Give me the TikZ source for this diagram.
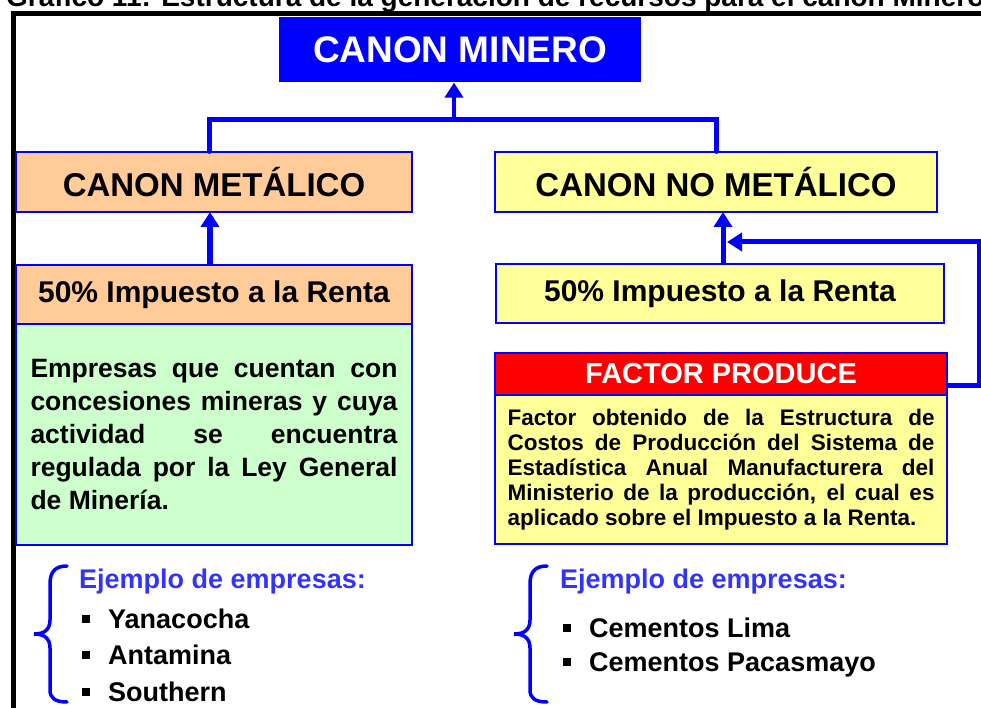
\documentclass[tikz,border=0pt]{standalone}
\usepackage{fontspec}
\setmainfont{Liberation Sans}
\usepackage{tikz}
\usetikzlibrary{arrows.meta}
\definecolor{cmblue}{RGB}{0,0,255}
\definecolor{cmorange}{RGB}{255,204,153}
\definecolor{cmyellow}{RGB}{255,255,153}
\definecolor{cmgreen}{RGB}{204,255,204}
\definecolor{cmred}{RGB}{255,0,0}
\definecolor{cmlabel}{RGB}{51,51,255}

\begin{document}
\begin{tikzpicture}[x=1pt, y=-1pt,
  box/.style={draw=cmblue, line width=1.2pt, inner sep=0pt, font=\bfseries},
  item/.style={anchor=base west, inner sep=0pt, font=\bfseries\fontsize{27}{30}\selectfont},
  link/.style={draw=cmblue, line width=5pt},
  uparrow/.style={link, -{Triangle[width=18pt,length=15pt]}},
  brace/.style={draw=cmblue, line width=3.5pt, line cap=round}]
  \clip (0,0) rectangle (981,708);

  % Title and frame
  \node[anchor=base west, inner sep=0pt, font=\bfseries\fontsize{28}{32}\selectfont] (title) at (6,7) {Gráfico 11: Estructura de la generación de recursos para el canon Minero};
  \draw[line width=5pt] (13,712) -- (13,14) -- (990,14);

  % Top
  \node[box, draw=none, fill=cmblue, text=white, minimum width=362pt, minimum height=65pt, font=\bfseries\fontsize{37}{40}\selectfont] (minero) at (460,49.5) {CANON MINERO};

  % Canon
  \node[box, fill=cmorange, minimum width=396pt, minimum height=60pt, font=\bfseries\fontsize{33}{36}\selectfont] (metal) at (214,182) {CANON METÁLICO};
  \node[box, fill=cmyellow, minimum width=442pt, minimum height=60pt, font=\bfseries\fontsize{33}{36}\selectfont] (nometal) at (716,182) {CANON NO METÁLICO};

  % Renta
  \node[box, fill=cmorange, minimum width=396pt, minimum height=59pt, font=\bfseries\fontsize{30}{33}\selectfont] (renta1) at (214,294.5) {50\% Impuesto a la Renta};
  \node[box, fill=cmyellow, minimum width=448pt, minimum height=59pt, font=\bfseries\fontsize{30}{33}\selectfont] (renta2) at (720,293.5) {50\% Impuesto a la Renta};

  % Descriptions
  \node[box, fill=cmgreen, text width=367pt, inner xsep=14.5pt, minimum height=221pt, align=justify, font=\bfseries\fontsize{26.5}{33}\selectfont] (desc1) at (214,434.5) {Empresas que cuentan con\linebreak concesiones mineras y cuya\linebreak actividad se encuentra\linebreak regulada por la Ley General\linebreak de Minería.};
  \node[box, fill=cmred, text=white, minimum width=452pt, minimum height=42pt, font=\bfseries\fontsize{29}{32}\selectfont] (factor) at (721,374) {FACTOR PRODUCE};
  \node[box, fill=cmyellow, text width=427pt, inner xsep=12.5pt, minimum height=149pt, align=justify, font=\bfseries\fontsize{22.5}{25}\selectfont] (desc2) at (721,469.5) {Factor obtenido de la Estructura de\linebreak Costos de Producción del Sistema de\linebreak Estadística Anual Manufacturera del\linebreak Ministerio de la producción, el cual es\linebreak aplicado sobre el Impuesto a la Renta.};

  % Connectors
  \coordinate (barL) at (209,120);
  \coordinate (barR) at (716,120);
  \coordinate (barM) at (454,120);
  \coordinate (join) at (727,242);
  \draw[link, line cap=round] (barL |- metal.north) -- (barL) -- (barR) -- (barR |- nometal.north);
  \draw[uparrow, line width=4pt] (barM) -- (barM |- minero.south);
  \draw[uparrow, line width=6pt] (210,265) -- (210,212);
  \draw[uparrow] (723,264) -- (723,212);
  \draw[link, -{Triangle[width=18pt,length=15pt]}] ([yshift=-11pt]factor.east) -| (979,242) -- (join);

  % Examples left
  \draw[brace] (67,566) .. controls (55,566) and (50,572) .. (50,584) -- (50,620) .. controls (50,630) and (44,634) .. (34,634) .. controls (44,634) and (50,638) .. (50,648) -- (50,690) .. controls (50,698) and (55,702) .. (67,702);
  \node[item, text=cmlabel] (ej1) at (79,588) {Ejemplo de empresas:};
  \node[item] (yana) at (82,628) {\rule[5.5pt]{8pt}{8pt}\hspace{18pt}Yanacocha};
  \node[item] (anta) at (82,664) {\rule[5.5pt]{8pt}{8pt}\hspace{18pt}Antamina};
  \node[item] (south) at (82,701) {\rule[5.5pt]{8pt}{8pt}\hspace{18pt}Southern};

  % Examples right
  \draw[brace, shift={(480,0)}] (67,566) .. controls (55,566) and (50,572) .. (50,584) -- (50,620) .. controls (50,630) and (44,634) .. (34,634) .. controls (44,634) and (50,638) .. (50,648) -- (50,690) .. controls (50,698) and (55,702) .. (67,702);
  \node[item, text=cmlabel] (ej2) at (560,588) {Ejemplo de empresas:};
  \node[item] (lima) at (563,637) {\rule[5.5pt]{8pt}{8pt}\hspace{18pt}Cementos Lima};
  \node[item] (pacas) at (563,671) {\rule[5.5pt]{8pt}{8pt}\hspace{18pt}Cementos Pacasmayo};
\end{tikzpicture}
\end{document}
